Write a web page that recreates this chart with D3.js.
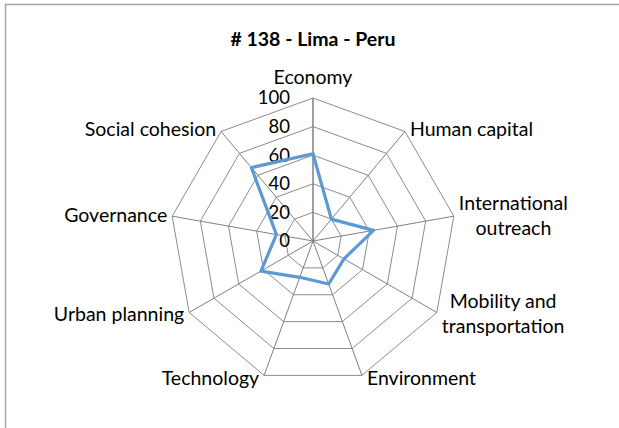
<!DOCTYPE html>
<html>
<head>
<meta charset="utf-8">
<script src="https://cdn.jsdelivr.net/npm/d3@7"></script>
<style>
  body { margin: 0; background: #fff; }
  svg text { font-family: Lato, "Open Sans", sans-serif; fill: #000; }
</style>
</head>
<body>
<svg id="chart" width="619" height="428"></svg>
<script>
// axis names, going clockwise from the top
var categories = ["Economy", "Human capital", "International outreach",
    "Mobility and transportation", "Environment", "Technology",
    "Urban planning", "Governance", "Social cohesion"];
// how each name wraps, as Excel shows it
var labelLines = [["Economy"], ["Human capital"], ["International", "outreach"],
    ["Mobility and", "transportation"], ["Environment"], ["Technology"],
    ["Urban planning"], ["Governance"], ["Social cohesion"]];
var scores = [61, 20, 43, 25, 32, 27, 42, 26, 67];
var ticks = [0, 20, 40, 60, 80, 100];
var title = "# 138 - Lima - Peru";

var width = 619, height = 428;
var cx = 313, cy = 241, radius = 143;
var lineColor = "#5B9BD5";

var svg = d3.select("#chart");

// chart frame (only top and left edges fall inside the picture)
svg.append("path")
    .attr("d", "M5.5," + height + "V4.5H" + width)
    .attr("fill", "none")
    .attr("stroke", "#a6a6a6")
    .attr("stroke-width", 1.5);

svg.append("text")
    .attr("x", cx)
    .attr("y", 46)
    .attr("text-anchor", "middle")
    .style("font-weight", "bold")
    .style("font-size", "19.5px")
    .text(title);

var r = d3.scaleLinear().domain([0, 100]).range([0, radius]);
var angle = d3.scalePoint().domain(d3.range(categories.length + 1))
    .range([0, 2 * Math.PI]);

function px(i, v) { return cx + r(v) * Math.sin(angle(i % categories.length)); }
function py(i, v) { return cy - r(v) * Math.cos(angle(i % categories.length)); }

var g = svg.append("g");

// rings
g.selectAll(".ring")
    .data(ticks.slice(1))
    .enter().append("polygon")
    .attr("class", "ring")
    .attr("points", function (t) {
        return categories.map(function (c, i) { return px(i, t) + "," + py(i, t); }).join(" ");
    })
    .attr("fill", "none")
    .attr("stroke", "#8c8c8c")
    .attr("stroke-width", 1);

// spokes
g.selectAll(".spoke")
    .data(categories)
    .enter().append("line")
    .attr("class", "spoke")
    .attr("x1", cx).attr("y1", cy)
    .attr("x2", function (d, i) { return px(i, 100); })
    .attr("y2", function (d, i) { return py(i, 100); })
    .attr("stroke", "#808080")
    .attr("stroke-width", function (d, i) { return i == 0 ? 1.5 : 1; });

// value axis labels
g.selectAll(".tick")
    .data(ticks)
    .enter().append("text")
    .attr("class", "tick")
    .attr("x", cx - 23)
    .attr("y", function (t) { return cy - r(t); })
    .attr("dy", "0.35em")
    .attr("text-anchor", "end")
    .style("font-size", "18.5px")
    .text(function (t) { return t; });

// data line
var line = d3.line()
    .x(function (d, i) { return px(i, d); })
    .y(function (d, i) { return py(i, d); })
    .curve(d3.curveLinearClosed);

g.append("path")
    .datum(scores)
    .attr("d", line)
    .attr("fill", "none")
    .attr("stroke", lineColor)
    .attr("stroke-width", 3.25)
    .attr("stroke-linejoin", "round");

// category labels
var lineH = 25;
labelLines.forEach(function (lines, i) {
    var a = angle(i);
    var s = Math.sin(a), c = Math.cos(a);
    var vx = px(i, 100), vy = py(i, 100);
    var lg = svg.append("g");
    lines.forEach(function (t, k) {
        lg.append("text")
            .attr("x", 0)
            .attr("y", (k - (lines.length - 1) / 2) * lineH)
            .attr("dy", "0.35em")
            .attr("text-anchor", "middle")
            .style("font-size", "19.5px")
            .text(t);
    });
    var w = lg.node().getBBox().width;
    var hgt = lines.length * lineH;
    var pad = 5;
    var x, y;
    if (Math.abs(s) < 0.1) {
        x = vx;
        y = vy - pad - hgt / 2 - 3;
    } else if (s > 0) {
        x = vx + pad + w / 2;
        y = vy - c * 3;
    } else {
        x = vx - pad - w / 2;
        y = vy - c * 3;
    }
    lg.attr("transform", "translate(" + x + "," + y + ")");
});
</script>
</body>
</html>
